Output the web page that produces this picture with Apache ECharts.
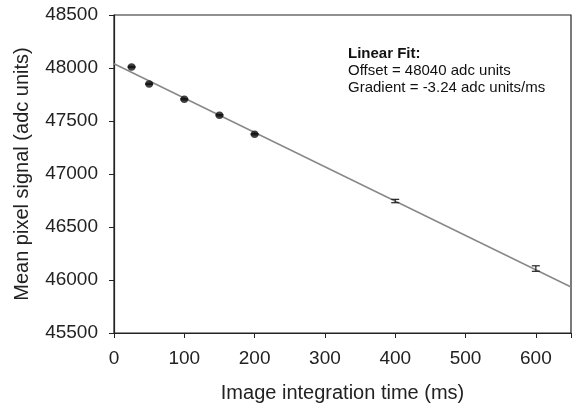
<!DOCTYPE html>
<html>
<head>
<meta charset="utf-8">
<script src="https://cdn.jsdelivr.net/npm/echarts@6/dist/echarts.min.js"></script>
<style>
  html, body { margin: 0; padding: 0; background: #fff; }
  #chart { width: 574px; height: 408px; }
</style>
</head>
<body>
<div id="chart"></div>
<script>
// measured points (integration time in ms, mean signal in adc units)
var times = [25, 50, 100, 150, 200, 400, 600];
var signal = [48010, 47850, 47705, 47555, 47375, 46745, 46108];
var errors = [6, 6, 6, 6, 6, 16, 26];

// linear fit shown in the annotation
var fitOffset = 48040;
var fitGradient = -3.24;
var fitRange = [0, 650];

var xTicks = [0, 100, 200, 300, 400, 500, 600];
var yTicks = [45500, 46000, 46500, 47000, 47500, 48000, 48500];

var points = times.map(function (t, i) { return [t, signal[i]]; });
var bars = times.map(function (t, i) { return [t, signal[i] - errors[i], signal[i] + errors[i]]; });
var fitLine = fitRange.map(function (t) { return [t, fitOffset + fitGradient * t]; });

var chart = echarts.init(document.getElementById('chart'));
var font = 'Liberation Sans, Arial, sans-serif';

chart.setOption({
  animation: false,
  grid: { left: 114, right: 2, top: 15, bottom: 74, show: true, borderColor: '#222', borderWidth: 1.2 },
  xAxis: {
    type: 'value', min: 0, max: 650, interval: 100,
    name: 'Image integration time (ms)', nameLocation: 'middle', nameGap: 50,
    nameTextStyle: { fontFamily: font, fontSize: 20, color: '#222' },
    axisLine: { show: true, onZero: false, lineStyle: { color: '#222', width: 1.2 } },
    axisTick: { show: true, inside: false, length: 5, lineStyle: { color: '#222' } },
    axisLabel: {
      margin: 16, fontFamily: font, fontSize: 19, color: '#222',
      formatter: function (v) { return xTicks.indexOf(v) >= 0 ? String(v) : ''; }
    },
    splitLine: { show: false }
  },
  yAxis: {
    type: 'value', min: 45500, max: 48500, interval: 500,
    name: 'Mean pixel signal (adc units)', nameLocation: 'middle', nameGap: 82,
    nameTextStyle: { fontFamily: font, fontSize: 20, color: '#222' },
    axisLine: { show: true, lineStyle: { color: '#222', width: 1.2 } },
    axisTick: { show: true, inside: false, length: 5, lineStyle: { color: '#222' } },
    axisLabel: {
      margin: 16, fontFamily: font, fontSize: 19, color: '#222',
      formatter: function (v) { return yTicks.indexOf(v) >= 0 ? String(v) : ''; }
    },
    splitLine: { show: false }
  },
  graphic: [
    { type: 'text', left: 348, top: 46, style: { text: 'Linear Fit:', fontFamily: font, fontSize: 15, fontWeight: 'bold', fill: '#111' } },
    { type: 'text', left: 348, top: 63, style: { text: 'Offset = 48040 adc units', fontFamily: font, fontSize: 15, fill: '#111' } },
    { type: 'text', left: 348, top: 80, style: { text: 'Gradient = -3.24 adc units/ms', fontFamily: font, fontSize: 15, fill: '#111' } }
  ],
  series: [
    {
      type: 'line', data: fitLine, symbol: 'none', silent: true,
      lineStyle: { color: '#888', width: 1.5 }, z: 1
    },
    {
      type: 'custom', data: bars, z: 2,
      renderItem: function (params, api) {
        var x = api.value(0);
        var lo = api.coord([x, api.value(1)]);
        var hi = api.coord([x, api.value(2)]);
        var w = 4;
        var st = { stroke: '#222', lineWidth: 1.2 };
        return {
          type: 'group',
          children: [
            { type: 'line', shape: { x1: lo[0], y1: lo[1], x2: hi[0], y2: hi[1] }, style: st },
            { type: 'line', shape: { x1: lo[0] - w, y1: lo[1], x2: lo[0] + w, y2: lo[1] }, style: st },
            { type: 'line', shape: { x1: hi[0] - w, y1: hi[1], x2: hi[0] + w, y2: hi[1] }, style: st }
          ]
        };
      }
    },
    {
      type: 'scatter', data: points.slice(0, 5), symbol: 'circle', symbolSize: 7.5,
      itemStyle: { color: '#111' }, z: 3
    }
  ]
});
</script>
</body>
</html>
